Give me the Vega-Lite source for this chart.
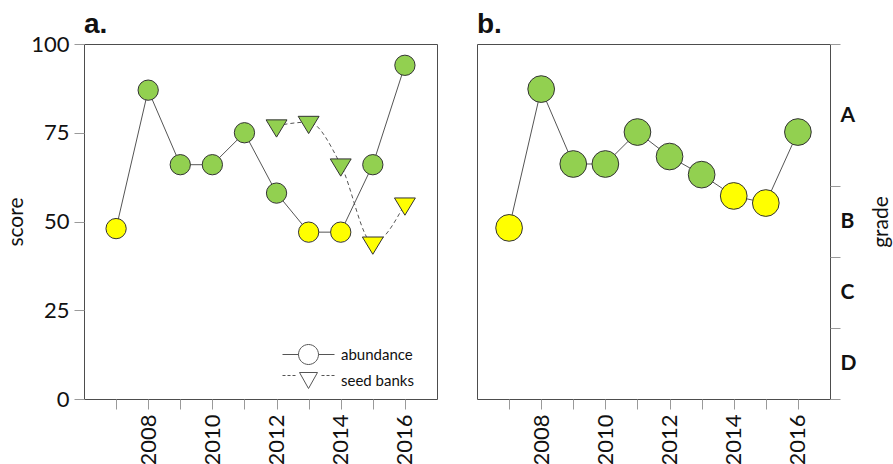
{
  "$schema": "https://vega.github.io/schema/vega-lite/v6.json",
  "padding": {"left": 5, "top": 10, "right": 0, "bottom": 0},
  "background": "white",
  "config": {
    "view": {"stroke": "#4d4d4d", "strokeWidth": 1},
    "axis": {"grid": false, "domain": false, "tickColor": "#9a9a9a", "tickSize": 10, "labelFont": "Lato", "labelFontSize": 22, "labelColor": "#111", "labelPadding": 5, "titleFont": "Lato", "titleFontSize": 21, "titleFontWeight": "normal", "titleColor": "#111"}
  },
  "resolve": {"legend": {"shape": "independent"}},
  "datasets": {
    "a": [
      {"year": 2007, "score": 48, "series": "abundance", "mk": "circle", "col": "yellow"},
      {"year": 2008, "score": 87, "series": "abundance", "mk": "circle", "col": "green"},
      {"year": 2009, "score": 66, "series": "abundance", "mk": "circle", "col": "green"},
      {"year": 2010, "score": 66, "series": "abundance", "mk": "circle", "col": "green"},
      {"year": 2011, "score": 75, "series": "abundance", "mk": "circle", "col": "green"},
      {"year": 2012, "score": 58, "series": "abundance", "mk": "circle", "col": "green"},
      {"year": 2013, "score": 47, "series": "abundance", "mk": "circle", "col": "yellow"},
      {"year": 2014, "score": 47, "series": "abundance", "mk": "circle", "col": "yellow"},
      {"year": 2015, "score": 66, "series": "abundance", "mk": "circle", "col": "green"},
      {"year": 2016, "score": 94, "series": "abundance", "mk": "circle", "col": "green"},
      {"year": 2012, "score": 77, "series": "seed banks", "mk": "triangle", "col": "green"},
      {"year": 2013, "score": 78, "series": "seed banks", "mk": "triangle", "col": "green"},
      {"year": 2014, "score": 66, "series": "seed banks", "mk": "triangle", "col": "green"},
      {"year": 2015, "score": 44, "series": "seed banks", "mk": "triangle", "col": "yellow"},
      {"year": 2016, "score": 55, "series": "seed banks", "mk": "triangle", "col": "yellow"}
    ],
    "b": [
      {"year": 2007, "score": 48.2, "col": "yellow"},
      {"year": 2008, "score": 87.3, "col": "green"},
      {"year": 2009, "score": 66.2, "col": "green"},
      {"year": 2010, "score": 66.2, "col": "green"},
      {"year": 2011, "score": 75.2, "col": "green"},
      {"year": 2012, "score": 68.3, "col": "green"},
      {"year": 2013, "score": 63.2, "col": "green"},
      {"year": 2014, "score": 57.2, "col": "yellow"},
      {"year": 2015, "score": 55.2, "col": "yellow"},
      {"year": 2016, "score": 75.2, "col": "green"}
    ]
  },
  "spacing": 38,
  "hconcat": [
    {
      "width": 353,
      "height": 355,
      "title": {"text": "a.", "font": "Liberation Sans", "fontSize": 28, "fontWeight": "bold", "anchor": "start", "frame": "group", "color": "#111", "offset": -6},
      "data": {"name": "a"},
      "encoding": {
        "x": {"field": "year", "type": "quantitative", "scale": {"domain": [2006, 2017], "nice": false, "zero": false},
          "axis": {"title": null, "values": [2007, 2008, 2009, 2010, 2011, 2012, 2013, 2014, 2015, 2016], "labelExpr": "datum.value % 2 == 0 ? datum.value : ''", "labelAngle": 270, "labelFlush": false, "labelOverlap": false}},
        "y": {"field": "score", "type": "quantitative", "scale": {"domain": [0, 100], "nice": false},
          "axis": {"title": "score", "values": [0, 25, 50, 75, 100], "titlePadding": 4}}
      },
      "layer": [
        {"transform": [{"filter": "datum.series == 'abundance'"}], "mark": {"type": "line", "color": "#555", "strokeWidth": 1}},
        {"transform": [{"filter": "datum.series == 'seed banks'"}], "mark": {"type": "line", "color": "#555", "strokeWidth": 1, "strokeDash": [4, 3], "interpolate": "monotone"}},
        {
          "mark": {"type": "point", "filled": true, "opacity": 1, "stroke": "#333", "strokeWidth": 1, "size": 412},
          "encoding": {
            "fill": {"field": "col", "type": "nominal", "scale": {"domain": ["green", "yellow"], "range": ["#92D050", "#FFFF00"]}, "legend": null},
            "shape": {"field": "mk", "type": "nominal", "scale": {"domain": ["circle", "triangle"], "range": ["circle", "M-1.03,-0.57L1.03,-0.57L0,1.13Z"]}, "legend": null}
          }
        },
        {
          "mark": {"type": "point", "filled": false, "opacity": 0, "stroke": "#555", "strokeWidth": 1, "size": 400},
          "encoding": {
            "shape": {"field": "series", "type": "nominal", "scale": {"domain": ["abundance", "seed banks"], "range": ["M-2.6,0H-1M1,0H2.6M-1,0A1,1 0 1,0 1,0A1,1 0 1,0 -1,0", "M-2.6,-0.5H-2.3M-2.1,-0.5H-1.8M-1.6,-0.5H-1.3M-0.9,-0.8L0.9,-0.8L0,0.8ZM1.3,-0.5H1.6M1.8,-0.5H2.1M2.3,-0.5H2.6"]},
              "legend": {"title": null, "orient": "none", "legendX": 214, "legendY": 300, "padding": 0, "labelFont": "Lato", "labelFontSize": 15, "labelColor": "#111", "symbolSize": 400, "labelOffset": 22, "rowPadding": 3, "symbolOpacity": 1, "symbolFillColor": "white", "symbolStrokeColor": "#555", "symbolStrokeWidth": 1}}
          }
        }
      ],
      "resolve": {"scale": {"shape": "independent"}}
    },
    {
      "width": 353,
      "height": 355,
      "title": {"text": "b.", "font": "Liberation Sans", "fontSize": 28, "fontWeight": "bold", "anchor": "start", "frame": "group", "color": "#111", "offset": 5},
      "data": {"name": "b"},
      "encoding": {
        "x": {"field": "year", "type": "quantitative", "scale": {"domain": [2006, 2017], "nice": false, "zero": false},
          "axis": {"title": null, "values": [2007, 2008, 2009, 2010, 2011, 2012, 2013, 2014, 2015, 2016], "labelExpr": "datum.value % 2 == 0 ? datum.value : ''", "labelAngle": 270, "labelFlush": false, "labelOverlap": false}}
      },
      "layer": [
        {"mark": {"type": "line", "color": "#555", "strokeWidth": 1},
          "encoding": {"y": {"field": "score", "type": "quantitative", "scale": {"domain": [0, 100], "nice": false},
            "axis": {"orient": "right", "title": null, "values": [0, 20, 40, 60, 100], "labels": false, "ticks": true}}}},
        {
          "mark": {"type": "point", "filled": true, "opacity": 1, "stroke": "#333", "strokeWidth": 1, "size": 713, "shape": "circle"},
          "encoding": {
            "y": {"field": "score", "type": "quantitative", "scale": {"domain": [0, 100], "nice": false},
              "axis": {"orient": "right", "offset": 10, "title": "grade", "titleAngle": 270, "values": [10, 30, 50, 80], "ticks": false, "labelPadding": 0, "labelFontWeight": "bold", "labelFontSize": 21, "labelExpr": "datum.value == 80 ? 'A' : datum.value == 50 ? 'B' : datum.value == 30 ? 'C' : 'D'", "titlePadding": 36}},
            "fill": {"field": "col", "type": "nominal", "scale": {"domain": ["green", "yellow"], "range": ["#92D050", "#FFFF00"]}, "legend": null}
          }
        }
      ],
      "resolve": {"scale": {"y": "independent"}}
    }
  ]
}
